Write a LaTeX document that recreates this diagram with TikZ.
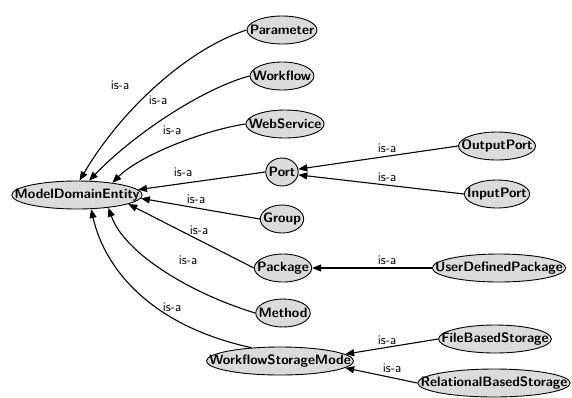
\documentclass[tikz,border=0pt]{standalone}
\usetikzlibrary{shapes.geometric,arrows.meta}
\newsavebox\entbox
\tikzset{
  ent/.style={ellipse, draw, line width=0.9pt, fill=black!14,
    minimum height=28pt, inner xsep=2pt, inner ysep=1pt,
    font=\fontsize{13.6}{15}\selectfont\sffamily\bfseries,
    execute at begin node={\setbox\entbox=\hbox\bgroup},
    execute at end node={\egroup\hbox to .7071\wd\entbox{\hss\usebox\entbox\hss}}},
  isa/.style={font=\fontsize{13.2}{15}\selectfont\sffamily, inner sep=0pt},
  rel/.style={-{Triangle[length=9pt,width=7pt]}, line width=1.1pt}
}
\begin{document}
\begin{tikzpicture}[x=1pt, y=-1pt]
  \useasboundingbox (0,0) rectangle (572,397);

  % Root class
  \node[ent] (MDE) at (77,195) {ModelDomainEntity};

  % Direct subclasses
  \node[ent] (Par) at (282,30) {Parameter};
  \node[ent] (Wf) at (282,76) {Workflow};
  \node[ent] (WS) at (285,124) {WebService};
  \node[ent] (Po) at (282,172) {Port};
  \node[ent] (Gr) at (282,219) {Group};
  \node[ent] (Pa) at (283,268) {Package};
  \node[ent] (Me) at (283,313) {Method};
  \node[ent] (WSM) at (280,361) {WorkflowStorageMode};

  % Second level
  \node[ent] (OP) at (497,146) {OutputPort};
  \node[ent] (IP) at (497,194) {InputPort};
  \node[ent] (UDP) at (499,268) {UserDefinedPackage};
  \node[ent] (FBS) at (495,339) {FileBasedStorage};
  \node[ent] (RBS) at (494,383) {RelationalBasedStorage};

  % is-a edges to the root
  \draw[rel] (Par.west) .. controls (190,48) and (123,107) .. (MDE.80);
  \draw[rel] (Wf.west) .. controls (210,86) and (140,128) .. (MDE.50);
  \draw[rel] (WS.west) .. controls (205,130) and (140,155) .. (MDE.19);
  \draw[rel] (Po.west) -- (MDE.5);
  \draw[rel] (Gr.west) -- (MDE.-3);
  \draw[rel] (Pa.west) -- (MDE.-10);
  \draw[rel] (Me.west) .. controls (195,295) and (125,255) .. (MDE.-22);
  \draw[rel] (WSM.155) .. controls (152,326) and (105,270) .. (MDE.-45);

  % is-a edges of the second level
  \draw[rel] (OP.west) -- (Po.10);
  \draw[rel] (IP.west) -- (Po.-10);
  \draw[rel] (UDP.west) -- (Pa.east);
  \draw[rel] (FBS.west) -- (WSM.6);
  \draw[rel] (RBS.west) -- (WSM.-6);

  % Labels
  \node[isa] (lPar) at (120,85) {is-a};
  \node[isa] (lWf) at (158,100) {is-a};
  \node[isa] (lWS) at (172,130) {is-a};
  \node[isa] (lPo) at (183,172) {is-a};
  \node[isa] (lGr) at (196,199) {is-a};
  \node[isa] (lPa) at (199,230) {is-a};
  \node[isa] (lMe) at (188,260) {is-a};
  \node[isa] (lWSM) at (172,307) {is-a};
  \node[isa] (lOP) at (387,148) {is-a};
  \node[isa] (lIP) at (387,177) {is-a};
  \node[isa] (lUDP) at (387,260) {is-a};
  \node[isa] (lFBS) at (387,340) {is-a};
  \node[isa] (lRBS) at (392,368) {is-a};
\end{tikzpicture}
\end{document}
